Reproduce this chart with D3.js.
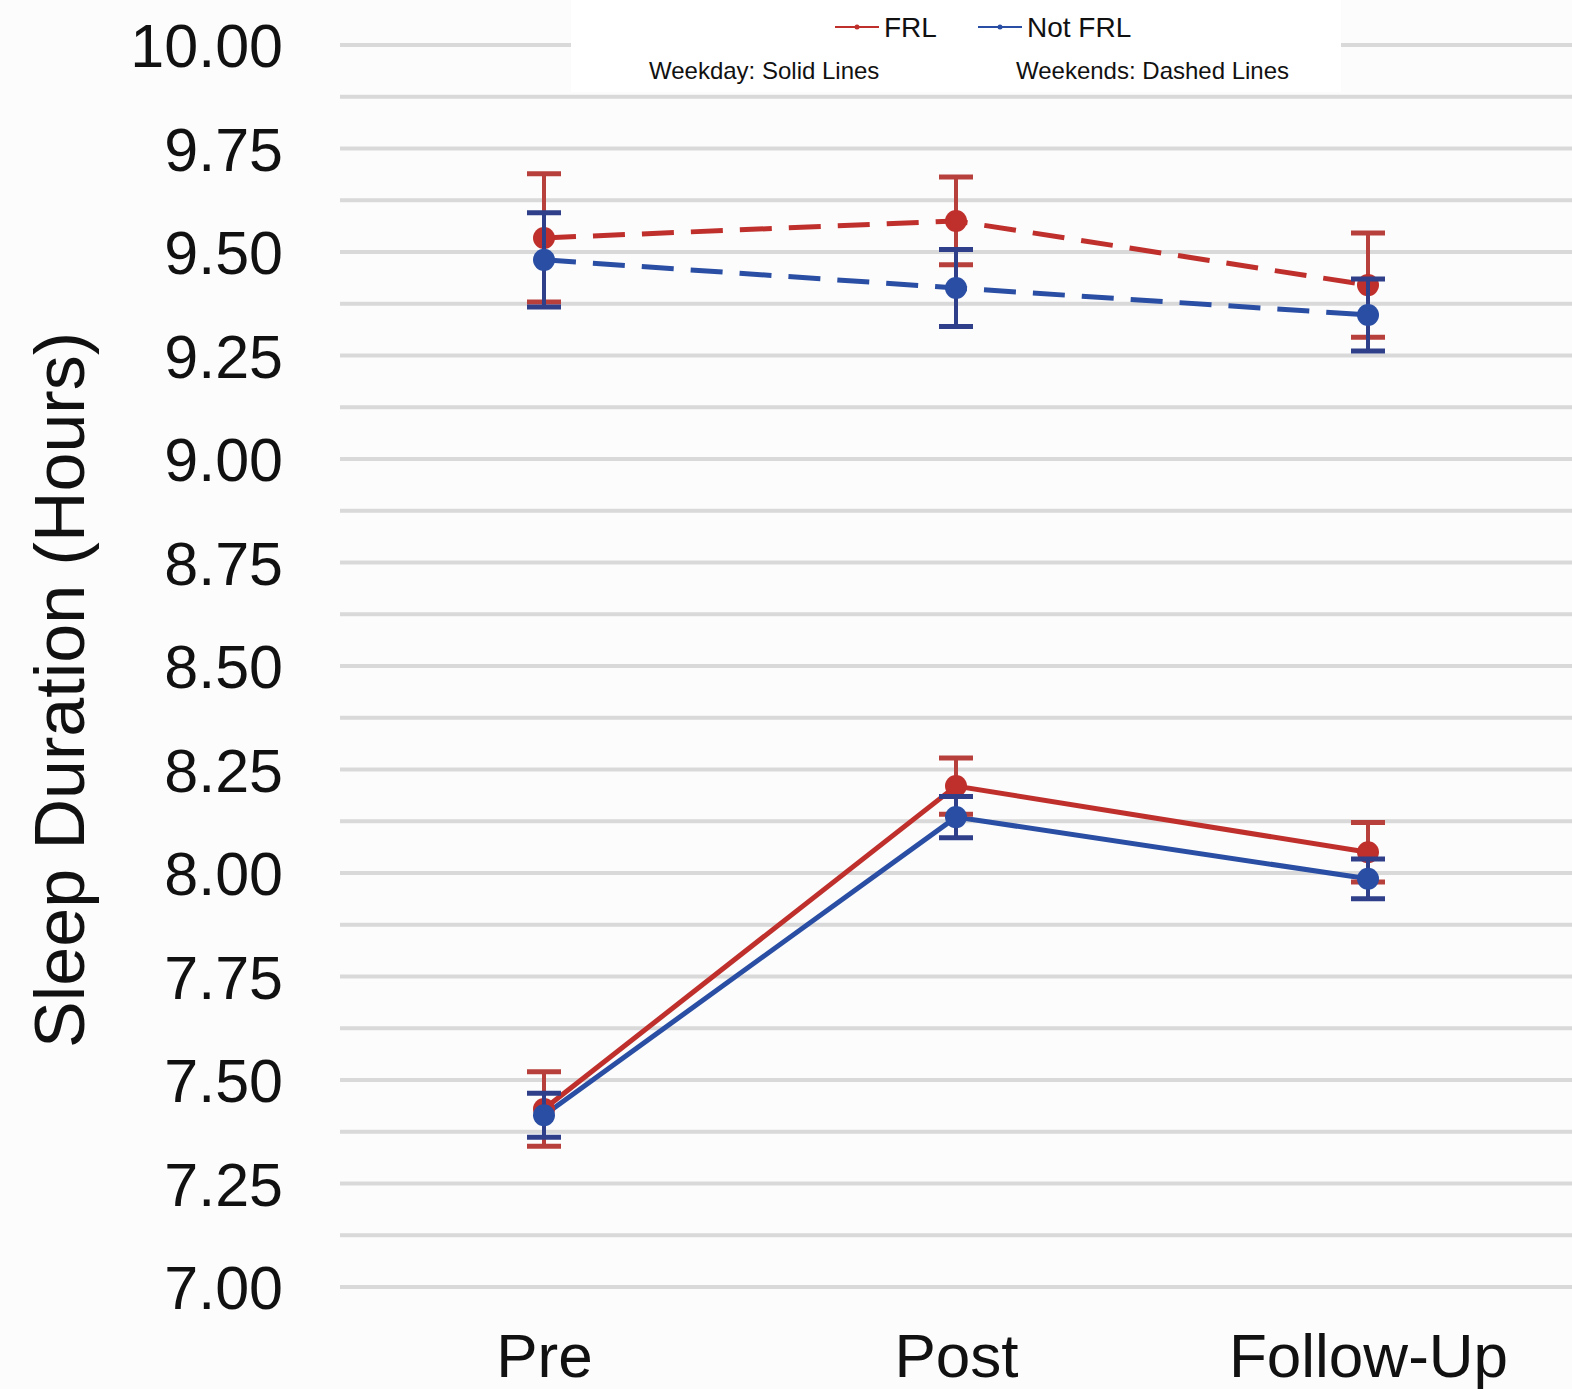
<!DOCTYPE html>
<html>
<head>
<meta charset="utf-8">
<script src="https://cdn.jsdelivr.net/npm/d3@7"></script>
<style>
  body { margin: 0; background: #fcfcfc; }
  svg { display: block; font-family: "Liberation Sans", Arial, sans-serif; }
</style>
</head>
<body>
<svg id="chart" width="1572" height="1389"></svg>
<script>
// data
const phases = ['Pre', 'Post', 'Follow-Up'];
const yTicks = [7.00, 7.25, 7.50, 7.75, 8.00, 8.25, 8.50, 8.75, 9.00, 9.25, 9.50, 9.75, 10.00];

const frlWeekday = [7.43, 8.21, 8.05];
const frlWeekdayErr = [0.09, 0.068, 0.072];
const notFrlWeekday = [7.415, 8.135, 7.986];
const notFrlWeekdayErr = [0.053, 0.05, 0.048];

const frlWeekend = [9.534, 9.575, 9.42];
const frlWeekendErr = [0.155, 0.106, 0.126];
const notFrlWeekend = [9.481, 9.413, 9.348];
const notFrlWeekendErr = [0.114, 0.093, 0.087];

const RED = '#bf302d';
const BLUE = '#2a4ea3';
const RED_ERR = '#b8403c';
const BLUE_ERR = '#2f3f8a';

const series = [
    {values: frlWeekend, err: frlWeekendErr, color: RED, errColor: RED_ERR, dash: '32,17'},
    {values: notFrlWeekend, err: notFrlWeekendErr, color: BLUE, errColor: BLUE_ERR, dash: '32,17'},
    {values: frlWeekday, err: frlWeekdayErr, color: RED, errColor: RED_ERR, dash: null},
    {values: notFrlWeekday, err: notFrlWeekdayErr, color: BLUE, errColor: BLUE_ERR, dash: null}
];

const svg = d3.select('#chart');

const x = d3.scalePoint().domain(phases).range([338, 1574]).padding(0.5);
const y = d3.scaleLinear().domain([7, 10]).range([1287, 45]);

// gridlines every 0.125
const gridVals = d3.range(7, 10.0001, 0.125);
svg.append('g')
    .selectAll('line')
    .data(gridVals)
    .enter().append('line')
    .attr('x1', 340)
    .attr('x2', 1572)
    .attr('y1', d => y(d))
    .attr('y2', d => y(d))
    .attr('stroke', '#d9d9d9')
    .attr('stroke-width', 4);

// y axis labels
const yAxis = d3.axisLeft(y).tickValues(yTicks).tickFormat(d3.format('.2f')).tickSize(0).tickPadding(0);
const yg = svg.append('g')
    .attr('transform', 'translate(283,0)')
    .call(yAxis);
yg.select('.domain').remove();
yg.selectAll('text')
    .attr('font-size', '61px')
    .attr('fill', '#111')
    .attr('dy', '0.36em')
    .style('font-family', '"Liberation Sans", Arial, sans-serif');

// x axis labels
const xAxis = d3.axisBottom(x).tickSize(0).tickPadding(0);
const xg = svg.append('g')
    .attr('transform', 'translate(0,1377)')
    .call(xAxis);
xg.select('.domain').remove();
xg.selectAll('text')
    .attr('font-size', '62px')
    .attr('fill', '#111')
    .attr('dy', '0')
    .style('font-family', '"Liberation Sans", Arial, sans-serif');

// y axis title
svg.append('text')
    .attr('transform', 'translate(84,690) rotate(-90)')
    .attr('text-anchor', 'middle')
    .attr('font-size', '70px')
    .attr('fill', '#111')
    .text('Sleep Duration (Hours)');

// lines
const line = d3.line()
    .x((d, i) => x(phases[i]))
    .y(d => y(d));

series.forEach(s => {
    svg.append('path')
        .datum(s.values)
        .attr('fill', 'none')
        .attr('stroke', s.color)
        .attr('stroke-width', 5)
        .attr('stroke-dasharray', s.dash)
        .attr('d', line);
});

// error bars and points
const capW = 17;
series.forEach(s => {
    const g = svg.append('g');
    const rows = s.values.map((v, i) => ({phase: phases[i], v: v, e: s.err[i]}));
    g.selectAll('.bar')
        .data(rows)
        .enter().append('line')
        .attr('x1', d => x(d.phase))
        .attr('x2', d => x(d.phase))
        .attr('y1', d => y(d.v + d.e))
        .attr('y2', d => y(d.v - d.e))
        .attr('stroke', s.errColor)
        .attr('stroke-width', 4);
    [1, -1].forEach(sign => {
        g.selectAll('.cap' + sign)
            .data(rows)
            .enter().append('line')
            .attr('x1', d => x(d.phase) - capW)
            .attr('x2', d => x(d.phase) + capW)
            .attr('y1', d => y(d.v + sign * d.e))
            .attr('y2', d => y(d.v + sign * d.e))
            .attr('stroke', s.errColor)
            .attr('stroke-width', 5);
    });
    g.selectAll('circle')
        .data(rows)
        .enter().append('circle')
        .attr('cx', d => x(d.phase))
        .attr('cy', d => y(d.v))
        .attr('r', 11)
        .attr('fill', s.color);
});

// legend
const legend = svg.append('g');
legend.append('rect')
    .attr('x', 571)
    .attr('y', 0)
    .attr('width', 770)
    .attr('height', 92)
    .attr('fill', '#ffffff');

const legendItems = [
    {label: 'FRL', color: RED, x: 835},
    {label: 'Not FRL', color: BLUE, x: 978}
];
legendItems.forEach(item => {
    legend.append('line')
        .attr('x1', item.x)
        .attr('x2', item.x + 44)
        .attr('y1', 27)
        .attr('y2', 27)
        .attr('stroke', item.color)
        .attr('stroke-width', 2);
    legend.append('circle')
        .attr('cx', item.x + 22)
        .attr('cy', 27)
        .attr('r', 2.5)
        .attr('fill', item.color);
    legend.append('text')
        .attr('x', item.x + 49)
        .attr('y', 37)
        .attr('font-size', '28px')
        .attr('fill', '#111')
        .text(item.label);
});

legend.append('text')
    .attr('x', 649)
    .attr('y', 79)
    .attr('font-size', '24px')
    .attr('fill', '#111')
    .text('Weekday: Solid Lines');
legend.append('text')
    .attr('x', 1016)
    .attr('y', 79)
    .attr('font-size', '24px')
    .attr('fill', '#111')
    .text('Weekends: Dashed Lines');
</script>
</body>
</html>
